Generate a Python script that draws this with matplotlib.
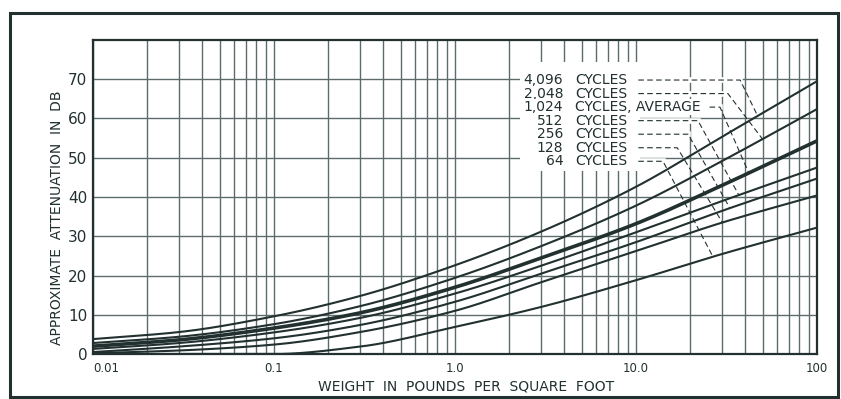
import numpy as np
import matplotlib.pyplot as plt
from matplotlib.patches import Rectangle

# weight in pounds per square foot (log scale) and attenuation in dB
weight = [0.01, 0.03, 0.1, 0.3, 1.0, 3.0, 10.0, 30.0, 100.0]
freqs = ["4,096", "2,048", "1,024", "512", "256", "128", "64"]
atten_4096 = [3.8, 5.6, 9.6, 14.8, 22.6, 31.2, 42.6, 55.4, 69.5]
atten_2048 = [2.8, 4.4, 7.6, 12.2, 19.4, 27.5, 37.8, 49.2, 62.4]
atten_1024 = [2.0, 3.6, 6.6, 10.5, 17.0, 24.5, 33.2, 43.0, 54.3]
atten_512 = [1.3, 2.8, 5.5, 9.2, 15.4, 22.5, 31.0, 39.0, 47.5]
atten_256 = [0.5, 1.9, 4.0, 7.4, 13.3, 20.5, 28.5, 36.5, 44.7]
atten_128 = [0.2, 0.9, 2.4, 5.6, 11.0, 18.3, 26.2, 33.5, 40.4]
atten_64 = [0.0, 0.0, 0.0, 1.9, 6.9, 12.0, 18.8, 25.5, 32.2]
series = [atten_4096, atten_2048, atten_1024, atten_512, atten_256, atten_128, atten_64]

# where each label's dashed leader bends and where it meets its curve
leader_start = [10.3, 10.3, 25.5, 10.3, 10.3, 10.3, 10.3]
leader_bend = [37.6, 32.2, 29.1, 22.0, 19.4, 16.9, 14.1]
leader_end = [47.0, 50.0, 42.0, 37.0, 33.0, 30.0, 26.6]

INK = "#223030"
GRID = "#5d6b6b"


def pchip(xk, yk, xq):
    # monotone cubic through the points, done in log10(weight)
    xk = np.log10(np.asarray(xk, float))
    yk = np.asarray(yk, float)
    xq = np.log10(np.asarray(xq, float))
    h = np.diff(xk)
    d = np.diff(yk) / h
    m = np.zeros_like(yk)
    for i in range(1, len(yk) - 1):
        if d[i - 1] * d[i] > 0:
            w1 = 2 * h[i] + h[i - 1]
            w2 = h[i] + 2 * h[i - 1]
            m[i] = (w1 + w2) / (w1 / d[i - 1] + w2 / d[i])
    m[0] = d[0]
    m[-1] = d[-1]
    idx = np.clip(np.searchsorted(xk, xq) - 1, 0, len(h) - 1)
    t = (xq - xk[idx]) / h[idx]
    h00 = 2 * t**3 - 3 * t**2 + 1
    h10 = t**3 - 2 * t**2 + t
    h01 = -2 * t**3 + 3 * t**2
    h11 = t**3 - t**2
    return (h00 * yk[idx] + h10 * h[idx] * m[idx]
            + h01 * yk[idx + 1] + h11 * h[idx] * m[idx + 1])


plt.rcParams['font.family'] = 'DejaVu Sans'
fig = plt.figure(figsize=(8.41, 3.99), dpi=100)
ax = fig.add_axes([93 / 841, 45 / 399, 724 / 841, 314 / 399])
ax.set_xscale('log')
ax.set_xlim(0.01, 100)
ax.set_ylim(0, 80)

# log grid and 10 dB lines
for dec in [0.01, 0.1, 1, 10]:
    for k in range(1, 10):
        ax.axvline(dec * k, color=GRID, lw=1.0, zorder=1)
for yv in range(10, 80, 10):
    ax.axhline(yv, color=GRID, lw=1.0, zorder=1)

xs = np.logspace(-2, 2, 400)
for i, ys in enumerate(series):
    lw = 2.6 if freqs[i] == "1,024" else 1.5
    ax.plot(xs, np.maximum(pchip(weight, ys, xs), 0), color=INK, lw=lw, zorder=4,
            solid_capstyle='butt')

# white block behind the legend text
ax.add_patch(Rectangle((2.3, 46.5), 10.5 - 2.3, 74.5 - 46.5, facecolor='white',
                       edgecolor='none', zorder=2))

row0 = 69.8
step = 3.45
for i, f in enumerate(freqs):
    y = row0 - i * step
    ax.text(3.96, y, f, ha='right', va='center', fontsize=10, color=INK,
            zorder=5, bbox=dict(facecolor='white', edgecolor='none', pad=0.5))
    txt = "CYCLES, AVERAGE" if f == "1,024" else "CYCLES"
    ax.text(4.6, y, txt, ha='left', va='center', fontsize=10, color=INK,
            zorder=5, bbox=dict(facecolor='white', edgecolor='none', pad=0.5))
    ye = float(pchip(weight, series[i], [leader_end[i]])[0])
    lx = [leader_start[i], leader_bend[i], leader_end[i]]
    ly = [y, y, ye]
    ax.plot(lx[:2], ly[:2], color='white', lw=4, zorder=2.5)
    ax.plot(lx, ly, color=INK, lw=0.8, ls=(0, (5, 3)), zorder=3)

ax.set_xticks([0.01, 0.1, 1, 10, 100])
ax.set_xticklabels(["0.01", "0.1", "1.0", "10.0", "100"], fontsize=8.5, color=INK)
ax.get_xticklabels()[0].set_ha('left')
ax.xaxis.set_minor_locator(plt.NullLocator())
ax.set_yticks(range(0, 80, 10))
ax.set_yticklabels([str(v) for v in range(0, 80, 10)], fontsize=11, color=INK)
ax.tick_params(length=0, pad=4)
ax.tick_params(axis='x', pad=6)
for s in ax.spines.values():
    s.set_color(INK)
    s.set_linewidth(1.6)

ax.set_xlabel("WEIGHT  IN  POUNDS  PER  SQUARE  FOOT",
              fontsize=10, color=INK, labelpad=3, x=0.515)
ax.set_ylabel("APPROXIMATE  ATTENUATION  IN  DB",
              fontsize=10, color=INK, labelpad=3, y=0.433)

# outer border
fig.add_artist(Rectangle((10 / 841, 2 / 399), 828 / 841, 384 / 399,
                         transform=fig.transFigure, fill=False,
                         edgecolor=INK, lw=2.2))

fig.savefig("out.png", dpi=100, facecolor='white')
